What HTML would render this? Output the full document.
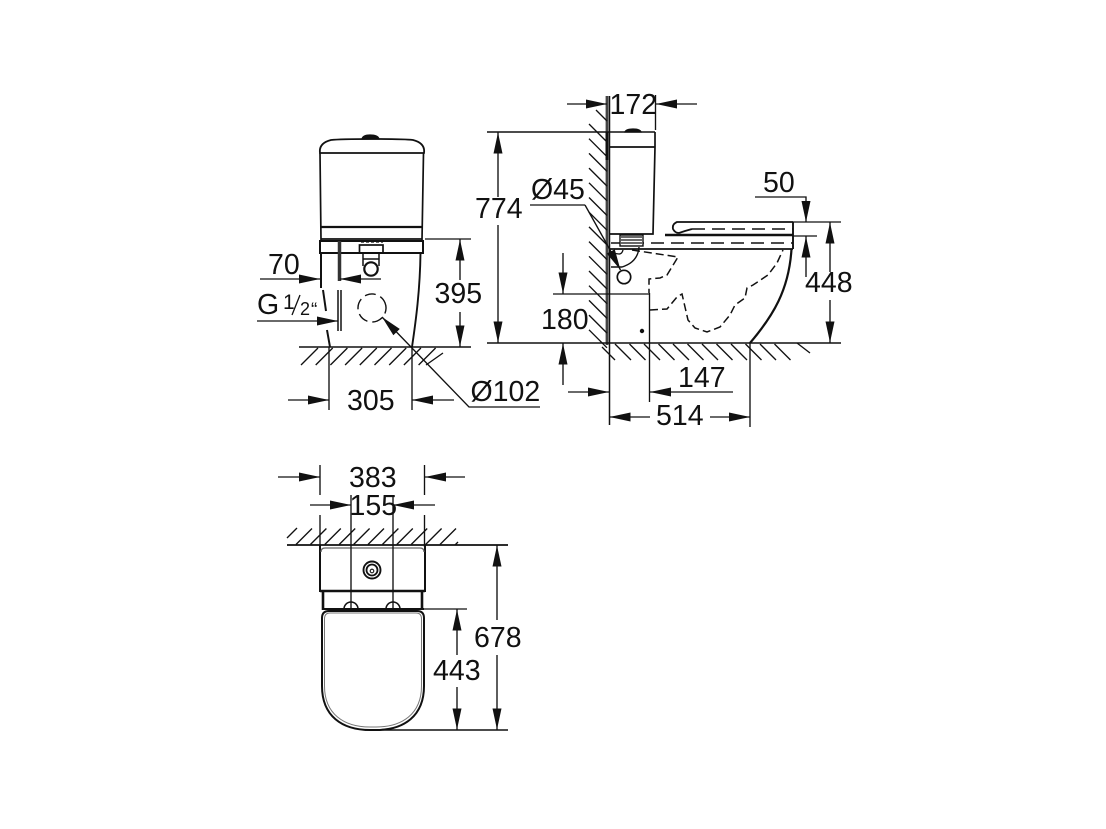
<!DOCTYPE html>
<html>
<head>
<meta charset="utf-8">
<style>
html,body{margin:0;padding:0;background:#fff}
svg{display:block;filter:blur(0.3px)}
text{font-family:"Liberation Sans",sans-serif;font-size:28.500px;fill:#111}
</style>
</head>
<body>
<svg width="1106" height="829" viewBox="0 0 1106 829" xmlns="http://www.w3.org/2000/svg">
<defs>
<marker id="a" markerUnits="userSpaceOnUse" markerWidth="21" markerHeight="10" refX="21" refY="5" orient="auto"><path d="M0 0.500L21 5L0 9.500z" fill="#111"/></marker>
</defs>
<g fill="none" stroke="#111" stroke-width="1.350">
<!-- FRONT VIEW -->
<path d="M320 153C319 146 323 142 331 140Q340 139 372 139Q405 139 413 140C421 142 425 146 424 153Z" stroke-width="1.800"/>
<path d="M362 139Q363 135 370 135Q378 135 379 139Z" fill="#111"/>
<path d="M320 153L321 240M423.500 153L422 240" stroke-width="1.700"/>
<path d="M321 227L422 227" stroke-width="2.200"/>
<path d="M321 239L422 239" stroke-width="1.800"/>
<path d="M320 241L423 241L423 253L320 253Z" stroke-width="2"/>
<path d="M321 253L321 288M323 290L326 311M327 330L330 347" stroke-width="2"/>
<path d="M420.500 253C420 290 416 320 412 347" stroke-width="1.900"/>
<path d="M339.500 241L339.500 281" stroke="#333" stroke-width="3.500"/>
<path d="M338 290L338 331M341 290L341 331" stroke-width="1.500"/>
<rect x="359.500" y="245" width="23.500" height="8" stroke-width="1.700"/>
<path d="M361 241.500h22" stroke-dasharray="3 2" stroke-width="2.200"/>
<path d="M363 253L363 266M379 253L379 266M363 259L379 259" stroke-width="1.500"/>
<circle cx="371" cy="269" r="6.700" fill="#fff" stroke-width="2.200"/>
<circle cx="372" cy="308" r="14" stroke-width="1.400" stroke-dasharray="11 5" transform="rotate(-22 372 308)"/>
<path d="M299 347L471 347" stroke-width="1.500"/>
<path d="M301 365l17-17m-2.300 17l17-17m-2.300 17l17-17m-2.300 17l17-17m-2.300 17l17-17m-2.300 17l17-17m-2.300 17l17-17m-2.300 17l17-17m-2.300 17l17-17M426 365l17-12"/>
<path d="M425 239L471 239"/>
<path d="M460 280L460 239.500" marker-end="url(#a)"/>
<path d="M460 312L460 346.500" marker-end="url(#a)"/>
<path d="M260 279L320 279" marker-end="url(#a)"/>
<path d="M381 279L340 279" marker-end="url(#a)"/>
<path d="M257 321L338 321" marker-end="url(#a)"/>
<path d="M329 347L329 410M412 347L412 410"/>
<path d="M288 400L329 400" marker-end="url(#a)"/>
<path d="M454 400L412 400" marker-end="url(#a)"/>
<path d="M540 407L469 407L382 317" marker-end="url(#a)"/>

<!-- SIDE VIEW -->
<path d="M607 96L607 345" stroke="#444" stroke-width="2.800"/>
<path d="M609.500 96L609.500 425" stroke-width="1.500"/>
<path d="M607 132L607 160" stroke-width="3"/>
<path d="M596 110l11 11M589 124l18 18m-18-3.300l18 18m-18-3.300l18 18m-18-3.300l18 18m-18-3.300l18 18m-18-3.300l18 18m-18-3.300l18 18m-18-3.300l18 18m-18-3.300l18 18m-18-3.300l18 18m-18-3.300l18 18m-18-3.300l18 18m-18-3.300l18 18m-18-3.300l18 18m-18-3.300l18 18"/>
<path d="M602 347l13 13M615 344l16 16m-1.500-16l16 16m-1.500-16l16 16m-1.500-16l16 16m-1.500-16l16 16m-1.500-16l16 16m-1.500-16l16 16m-1.500-16l16 16m-1.500-16l16 16m-1.500-16l16 16m-1.500-16l16 16m-1.500-16l16 16M797 343l13 10"/>
<path d="M655.500 95L655.500 130"/>
<path d="M567 104L607 104" marker-end="url(#a)"/>
<path d="M697 104L656 104" marker-end="url(#a)"/>
<path d="M487 132L655 132" stroke-width="1.500"/>
<path d="M487 343L841 343" stroke-width="1.600"/>
<path d="M498 197L498 132.500" marker-end="url(#a)"/>
<path d="M498 225L498 342.500" marker-end="url(#a)"/>
<path d="M625 132Q626 129 633 129Q640 129 641 132Z" fill="#111"/>
<path d="M609 147L655 147M655 132L655 147L653 234L609 234" stroke-width="1.700"/>
<path d="M609 249L793 249" stroke-width="1.800"/>
<path d="M611 243L793 243" stroke-dasharray="13 7" stroke-width="1.500"/>
<rect x="620" y="235" width="23" height="11" stroke-width="1.400" fill="#fff"/>
<path d="M621 237h21M621 240h21M621 243h21"/>
<path d="M639 247Q638 262 622 267L611 267" stroke-width="1.400"/>
<path d="M611 253L619 254Q622 254 623 250"/>
<circle cx="624" cy="277" r="6.700" stroke-width="1.700"/>
<path d="M585 205L609 248"/>
<path d="M530 205L585 205"/>
<path d="M609 248L620.500 270" marker-end="url(#a)"/>
<path d="M632 250L678 257L667 275L660 278L649 279L649 293" stroke-dasharray="8 4" stroke-width="1.500"/>
<path d="M649.500 293L649.500 402"/>
<path d="M553 294L649 294"/>
<path d="M563 253L563 293.500" marker-end="url(#a)"/>
<path d="M563 385L563 343.500" marker-end="url(#a)"/>
<circle cx="642" cy="331" r="2.200" fill="#111" stroke="none"/>
<path d="M650 310L667 309L677 297L682 294L685 307L688 320L695 328L707 332L720 327L730 315L735 305L745 298L747 288L753 285L768 275L777 263L783 250" stroke-dasharray="8 4" stroke-width="1.500"/>
<!-- Seat -->
<path d="M793 222L677 222Q672 224 673 229Q675 233 679 233L685 231L692 229" stroke-width="1.800"/>
<path d="M692 229L793 229" stroke-dasharray="13 7" stroke-width="1.500"/>
<path d="M665 235L793 235" stroke-width="2.500"/>
<path d="M793 222L793 249" stroke-width="1.900"/>
<path d="M791.500 249C789 290 773 316 750 343" stroke-width="2.200"/>
<path d="M755 197L806 197L806 222" marker-end="url(#a)"/>
<path d="M793 222L841 222M793 236L817 236"/>
<path d="M806 277L806 236.500" marker-end="url(#a)"/>
<path d="M830 272L830 222.500" marker-end="url(#a)"/>
<path d="M830 300L830 342.500" marker-end="url(#a)"/>
<path d="M750 343L750 427"/>
<path d="M733 392L650 392" marker-end="url(#a)"/>
<path d="M568 392L609 392" marker-end="url(#a)"/>
<path d="M650 417L609.500 417" marker-end="url(#a)"/>
<path d="M710 417L750 417" marker-end="url(#a)"/>

<!-- TOP VIEW -->
<path d="M287 545L508 545" stroke-width="1.700"/>
<path d="M287 538l10-10M296 544.500l16-16m-1.600 16l16-16m-1.600 16l16-16m-1.600 16l16-16m-1.600 16l16-16m-1.600 16l16-16m-1.600 16l16-16m-1.600 16l16-16m-1.600 16l16-16m-1.600 16l16-16m-1.600 16l16-16M455 545l3-3"/>
<path d="M320 545L320 591L425 591L425 545" stroke-width="2"/>
<path d="M321 552Q321 548 325 548L420 548Q424 548 424 552" stroke="#666" stroke-width="1.300"/>
<path d="M320 591L425 591" stroke-width="2.600"/>
<circle cx="372" cy="570" r="8.500" stroke-width="1.900"/>
<circle cx="372" cy="570" r="5.500" stroke-width="1.800"/>
<circle cx="372" cy="571" r="1.800" stroke-width="1.100"/>
<path d="M323 591L323 610M422 591L422 610" stroke-width="2.600"/>
<path d="M322 609L424 609" stroke-width="2"/>
<path d="M344 609A7 7 0 0 1 358 609M386 609A7 7 0 0 1 400 609" stroke-width="1.500"/>
<path d="M322 618Q322 611 329 611L417 611Q424 611 424 618L424 686C424 716 404 730 376 730L370 730C342 730 322 716 322 686Z" stroke-width="2"/>
<path d="M324.500 619Q324.500 613 330 613L416 613Q421.500 613 421.500 619L421.500 686C421.500 714 402 727 376 727L370 727C344 727 324.500 714 324.500 686Z" stroke="#777" stroke-width="1"/>
<path d="M320 465L320 495M320 515L320 547M424.500 465L424.500 495M424.500 515L424.500 547"/>
<path d="M351 495L351 609M393 495L393 609"/>
<path d="M278 477L320 477" marker-end="url(#a)"/>
<path d="M465 477L425 477" marker-end="url(#a)"/>
<path d="M310 505L351 505" marker-end="url(#a)"/>
<path d="M435 505L393 505" marker-end="url(#a)"/>
<path d="M424 609L467 609"/>
<path d="M365 730L508 730" stroke-width="1.600"/>
<path d="M497 620L497 545.500" marker-end="url(#a)"/>
<path d="M497 655L497 729.500" marker-end="url(#a)"/>
<path d="M457 655L457 609.500" marker-end="url(#a)"/>
<path d="M457 687L457 729.500" marker-end="url(#a)"/>
</g>

<text x="268" y="274">70</text>
<text x="257" y="314">G</text>
<text x="283" y="309" style="font-size:21px">1</text>
<path d="M292 315L300 295" stroke="#111" stroke-width="1.300" fill="none"/>
<text x="300" y="315" style="font-size:18px">2</text>
<text x="311" y="316" style="font-size:19px">“</text>
<text x="434.500" y="303">395</text>
<text x="347" y="410">305</text>
<text x="470.500" y="401">Ø102</text>
<text x="475" y="218">774</text>
<text x="609.500" y="114">172</text>
<text x="531" y="199">Ø45</text>
<text x="541" y="329">180</text>
<text x="763" y="192">50</text>
<text x="805" y="292">448</text>
<text x="678" y="387">147</text>
<text x="656" y="425">514</text>
<text x="349" y="487">383</text>
<text x="349.500" y="515">155</text>
<text x="474" y="647">678</text>
<text x="433" y="680">443</text>
</svg>
</body>
</html>
